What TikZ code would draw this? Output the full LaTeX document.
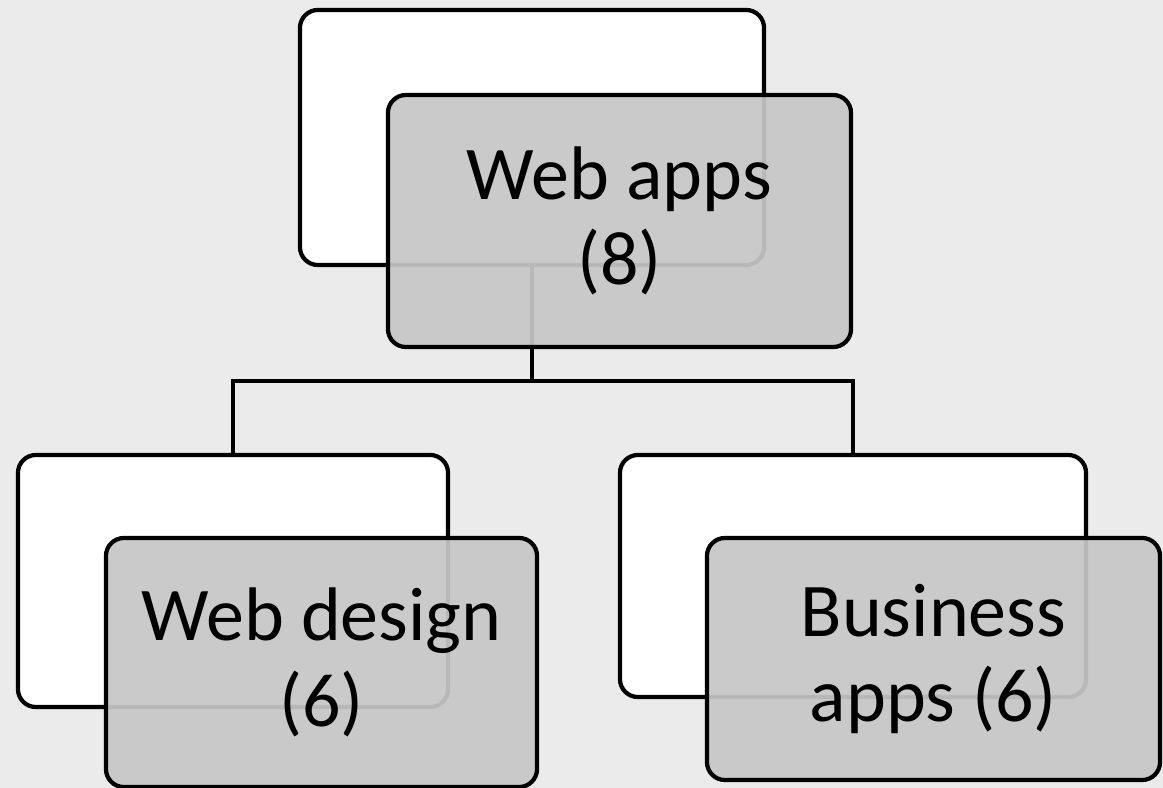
\documentclass[tikz,border=0pt]{standalone}
\usepackage{fontspec}
\setmainfont{Carlito}
\usepackage{xcolor}
\definecolor{bggray}{HTML}{EBEBEB}
\definecolor{boxgray}{HTML}{C7C7C7}

\begin{document}
\begin{tikzpicture}[x=0.025cm,y=-0.025cm,
  backbox/.style={draw,line width=3pt,rounded corners=0.45cm,fill=white,inner sep=0pt},
  frontbox/.style={draw,line width=3pt,rounded corners=0.45cm,fill=boxgray,fill opacity=0.93,text opacity=1,align=center,inner sep=0pt,font=\fontsize{54}{61}\selectfont},
  link/.style={line width=3pt}]
\fill[bggray](0,0) rectangle (1163,788);
\useasboundingbox (0,0) rectangle (1163,788);
% back cards
\node at (532,137.5)[backbox,minimum width=11.6cm,minimum height=6.375cm](appsback){};
\node at (233,581)[backbox,minimum width=10.75cm,minimum height=6.3cm](designback){};
\node at (853,576)[backbox,minimum width=11.65cm,minimum height=6.05cm](businessback){};
% links
\coordinate (split) at (532,381);
\draw[link](appsback.south)--(split);
\draw[link](split)-|(designback.north);
\draw[link](split)-|(businessback.north);
% front cards
\node at (619.5,221)[frontbox,minimum width=11.575cm,minimum height=6.3cm](apps){Web apps\\(8)};
\node at (321.5,662.5)[frontbox,minimum width=10.775cm,minimum height=6.225cm](design){Web design\\(6)};
\node at (933.5,659)[frontbox,minimum width=11.325cm,minimum height=6.05cm](business){Business\\apps (6)};
\end{tikzpicture}
\end{document}
